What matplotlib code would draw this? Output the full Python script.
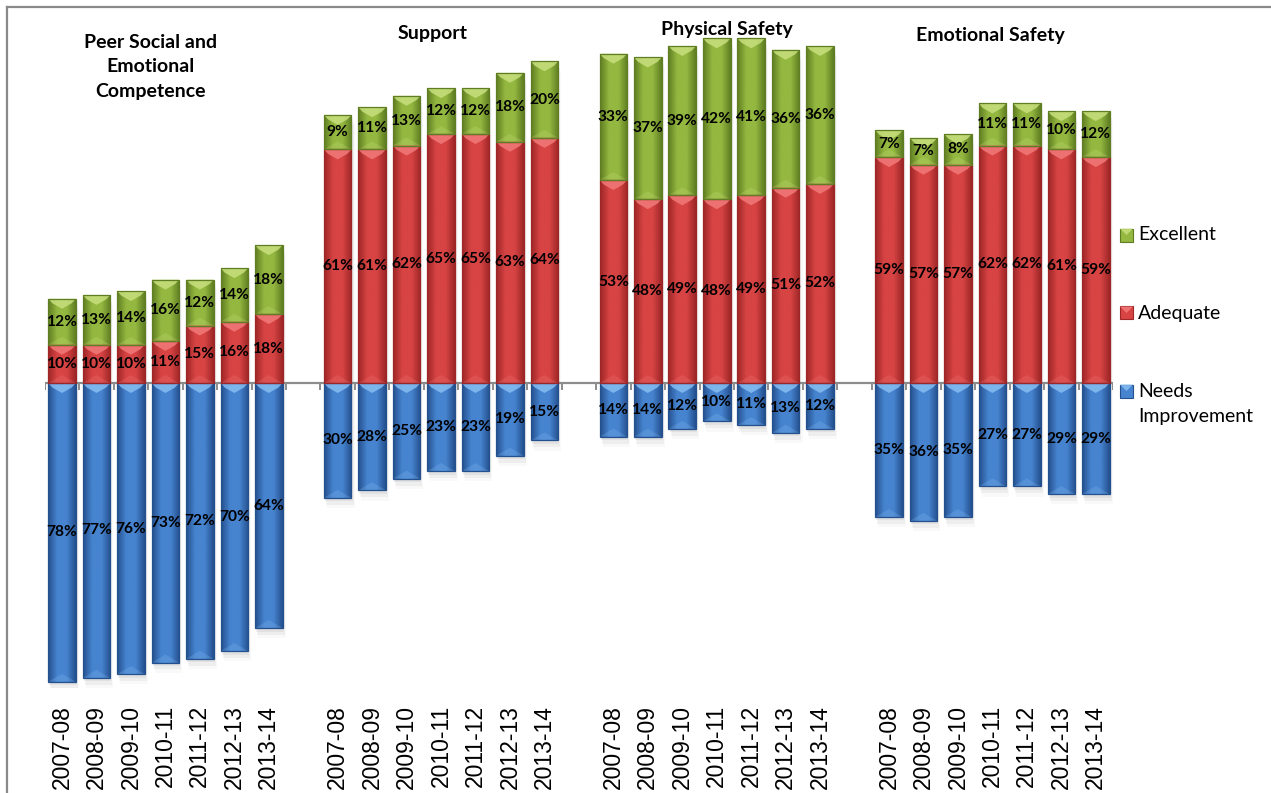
import numpy as np
import matplotlib.pyplot as plt
from matplotlib.patches import Rectangle, Polygon
from matplotlib.lines import Line2D
from matplotlib.colors import LinearSegmentedColormap

# school climate survey results, share of students in each rating band
years = ["2007-08", "2008-09", "2009-10", "2010-11", "2011-12", "2012-13", "2013-14"]
groups = ["Peer Social and\nEmotional\nCompetence", "Support", "Physical Safety", "Emotional Safety"]

peer_needs = [78, 77, 76, 73, 72, 70, 64]
peer_adequate = [10, 10, 10, 11, 15, 16, 18]
peer_excellent = [12, 13, 14, 16, 12, 14, 18]

support_needs = [30, 28, 25, 23, 23, 19, 15]
support_adequate = [61, 61, 62, 65, 65, 63, 64]
support_excellent = [9, 11, 13, 12, 12, 18, 20]

physical_needs = [14, 14, 12, 10, 11, 13, 12]
physical_adequate = [53, 48, 49, 48, 49, 51, 52]
physical_excellent = [33, 37, 39, 42, 41, 36, 36]

emotional_needs = [35, 36, 35, 27, 27, 29, 29]
emotional_adequate = [59, 57, 57, 62, 62, 61, 59]
emotional_excellent = [7, 7, 8, 11, 11, 10, 12]

needs = [peer_needs, support_needs, physical_needs, emotional_needs]
adequate = [peer_adequate, support_adequate, physical_adequate, emotional_adequate]
excellent = [peer_excellent, support_excellent, physical_excellent, emotional_excellent]

# (dark edge, mid, light bevel)
green = ("#5f7d22", "#94b840", "#c8e07e")
red = ("#9e2626", "#d84444", "#f27a7a")
blue = ("#24508e", "#4784d0", "#86bdf2")

W, H = 1271, 793
fig = plt.figure(figsize=(W / 100, H / 100), dpi=100)
ax_left, ax_right, ax_top, ax_bot = 44.8, 1113, 7, 688
ax = fig.add_axes([ax_left / W, (H - ax_bot) / H, (ax_right - ax_left) / W, (ax_bot - ax_top) / H])

px_per_unit = 3.83
ymin = -(ax_bot - 383) / px_per_unit
ymax = (383 - ax_top) / px_per_unit
ax.set_xlim(-0.5, 30.5)
ax.set_ylim(ymin, ymax)

bw = 0.8
bevel = 10 / px_per_unit  # depth of the top/bottom bevel in data units


def segment(x, y0, y1, cols):
    lo, hi = min(y0, y1), max(y0, y1)
    if hi - lo <= 0:
        return
    dark, mid, light = cols
    # soft drop shadow
    for k, a in enumerate([0.10, 0.07, 0.04]):
        sh = Rectangle((x - bw / 2 + 0.03 * (k + 1), lo - 0.9 * (k + 1)), bw, hi - lo,
                       facecolor="#707070", edgecolor="none", alpha=a, zorder=1)
        ax.add_patch(sh)
    rect = Rectangle((x - bw / 2, lo), bw, hi - lo, facecolor=mid, edgecolor="none", zorder=2)
    ax.add_patch(rect)
    cmap = LinearSegmentedColormap.from_list("g", [dark, mid, mid, dark])
    grad = np.linspace(0, 1, 64).reshape(1, -1)
    im = ax.imshow(grad, cmap=cmap, extent=(x - bw / 2, x + bw / 2, lo, hi),
                   aspect="auto", zorder=3, interpolation="bicubic")
    im.set_clip_path(rect)
    d = min(bevel, (hi - lo) / 2)
    top = Polygon([(x - bw / 2, hi), (x + bw / 2, hi), (x + bw / 2 - 0.12, hi - d * 0.45),
                   (x, hi - d), (x - bw / 2 + 0.12, hi - d * 0.45)],
                  closed=True, facecolor=light, edgecolor="none", alpha=0.85, zorder=4)
    ax.add_patch(top)
    bot = Polygon([(x - bw / 2, lo), (x + bw / 2, lo), (x, lo + d * 0.8)],
                  closed=True, facecolor=light, edgecolor="none", alpha=0.25, zorder=4)
    ax.add_patch(bot)
    ax.add_patch(Rectangle((x - bw / 2, lo), bw, hi - lo, facecolor="none",
                           edgecolor=dark, lw=0.9, zorder=5))


label_font = dict(family=["Lato", "DejaVu Sans"], fontweight="bold", fontsize=11.2,
                  color="black", ha="center", va="center", zorder=6)

positions = []
for g in range(4):
    for i in range(7):
        x = g * 8 + i
        positions.append(x)
        n, a, e = needs[g][i], adequate[g][i], excellent[g][i]
        segment(x, 0, -n, blue)
        segment(x, 0, a, red)
        segment(x, a, a + e, green)
        ax.text(x, -n / 2, f"{n}%", **label_font)
        ax.text(x, a / 2, f"{a}%", **label_font)
        ax.text(x, a + e / 2, f"{e}%", **label_font)

# category axis along zero with small ticks between slots
ax.axhline(0, color="#8c8c8c", lw=1.6, zorder=1.5)
ax.vlines(np.arange(-0.5, 31, 1.0), -1.9, 0.3, color="#8c8c8c", lw=1.4, zorder=1.5)

ax.set_xticks(positions)
ax.set_xticklabels(years * 4, rotation=90, fontsize=16.5,
                   family=["Liberation Sans", "DejaVu Sans"])
ax.tick_params(axis="x", length=0, pad=12)
ax.set_yticks([])
for s in ax.spines.values():
    s.set_visible(False)

# group titles
title_font = dict(family=["Lato", "DejaVu Sans"], fontweight="bold", fontsize=14,
                  ha="center", va="center", linespacing=1.5)
fig.text(151 / W, 1 - 67 / H, groups[0], **title_font)
fig.text(433 / W, 1 - 33 / H, groups[1], **title_font)
fig.text(727 / W, 1 - 30 / H, groups[2], **title_font)
fig.text(990 / W, 1 - 35 / H, groups[3], **title_font)

# legend
leg_font = dict(family=["Lato", "DejaVu Sans"], fontsize=14, ha="left", va="center",
                linespacing=1.55)
for cols, name, yc in [(green, "Excellent", 235), (red, "Adequate", 313),
                       (blue, "Needs\nImprovement", 404)]:
    yb = 391 if name.startswith("Needs") else yc
    sq = Rectangle(((1120) / W, 1 - (yb + 6.5) / H), 13 / W, 13 / H, transform=fig.transFigure,
                   facecolor=cols[1], edgecolor=cols[0], lw=0.8)
    fig.add_artist(sq)
    tri = Polygon([(1120 / W, 1 - (yb - 6.5) / H), (1133 / W, 1 - (yb - 6.5) / H),
                   (1126.5 / W, 1 - yb / H)], closed=True, transform=fig.transFigure,
                  facecolor=cols[2], edgecolor="none", alpha=0.85)
    fig.add_artist(tri)
    fig.text(1138 / W, 1 - yc / H, name, **leg_font)

# chart area border
fig.add_artist(Line2D([7 / W, 7 / W], [0, 1 - 7 / H], color="#8a8a8a", lw=1.6))
fig.add_artist(Line2D([7 / W, 1], [1 - 7 / H, 1 - 7 / H], color="#8a8a8a", lw=1.6))

fig.savefig("out.png", dpi=100)
